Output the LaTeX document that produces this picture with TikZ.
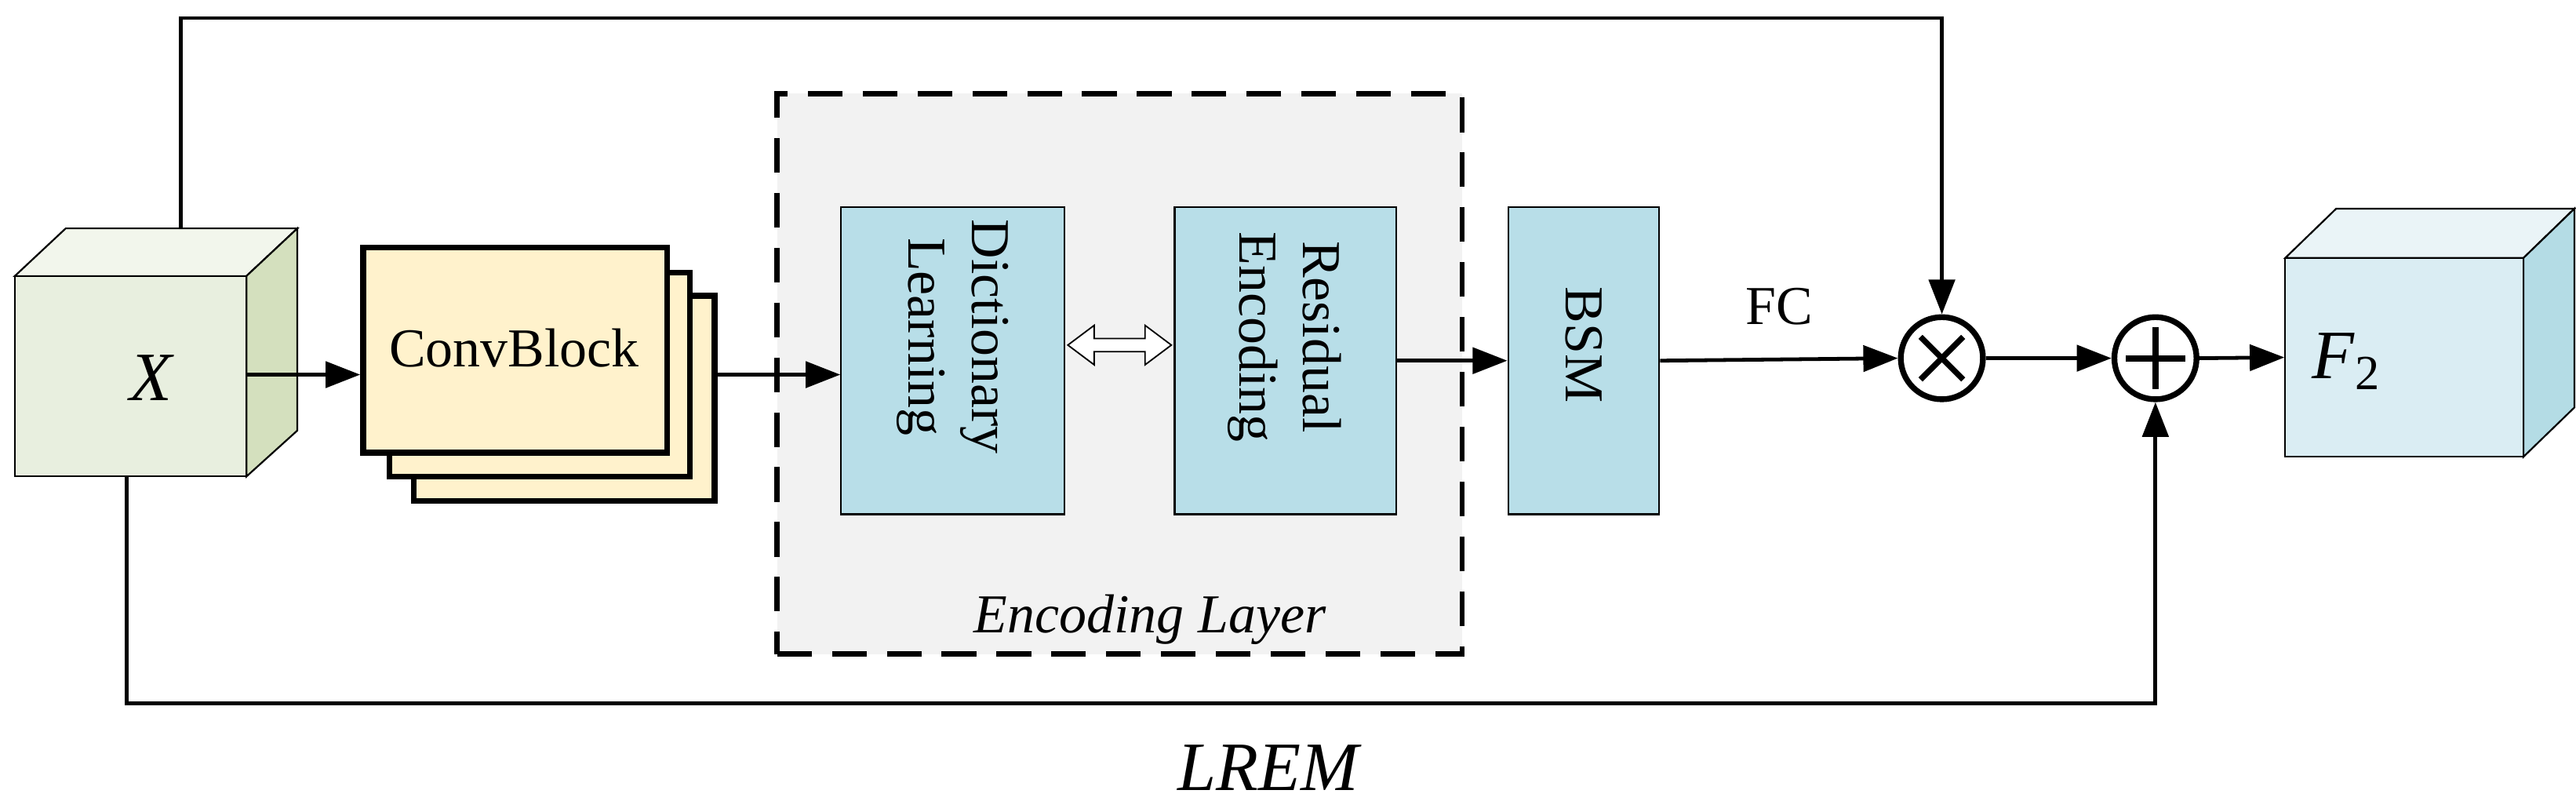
\documentclass[tikz,border=0pt]{standalone}
\usepackage{fontspec}
\setmainfont{Liberation Serif}
\usetikzlibrary{arrows.meta,calc}
\definecolor{gfront}{HTML}{E8EFDF}\definecolor{gtop}{HTML}{F2F6EC}\definecolor{gside}{HTML}{D4E0BE}
\definecolor{bfront}{HTML}{DAEDF3}\definecolor{btop}{HTML}{EAF4F7}\definecolor{bside}{HTML}{B4DCE5}
\definecolor{conv}{HTML}{FFF2CC}\definecolor{blk}{HTML}{B8DEE8}\definecolor{encbg}{HTML}{F2F2F2}
\begin{document}
\begin{tikzpicture}[x=0.02cm,y=-0.02cm,
  arr/.style={line width=1.3pt,-{Triangle[length=12pt,width=9pt]}},
  txt/.style={font=\fontsize{19}{22}\selectfont},
  conv/.style={draw=black,line width=2pt,fill=conv},
  opc/.style={circle,draw=black,line width=2pt,minimum size=1.0cm,inner sep=0pt}]
\useasboundingbox (0,0) rectangle (1568,494);
% X cube
\fill[gtop,draw=black,line width=0.6pt] (9,168)--(40,139)--(181,139)--(150,168)--cycle;
\fill[gside,draw=black,line width=0.6pt] (150,168)--(181,139)--(181,262)--(150,290)--cycle;
\node[draw=black,line width=0.6pt,fill=gfront,minimum width=2.82cm,minimum height=2.44cm,inner sep=0pt] (X) at (79.5,229) {};
\node[font=\fontsize{24}{26}\selectfont\itshape] at (92,230) {X};
% ConvBlock
\draw[conv] (252,180) rectangle (435,305);
\draw[conv] (237,166) rectangle (420,290);
\node[conv,minimum width=3.7cm,minimum height=2.5cm,inner sep=0pt] (CB) at (313.5,213) {};
\node[txt] at (313,212) {ConvBlock};
% Encoding layer
\node[draw=black,line width=1.8pt,dash pattern=on 12pt off 7pt,fill=encbg,minimum width=8.34cm,minimum height=6.82cm,inner sep=0pt] (EL) at (681.5,227.5) {};
\node[font=\fontsize{19}{22}\selectfont\itshape] at (700,377) {Encoding Layer};
\node[draw=black,line width=0.6pt,fill=blk,minimum width=2.72cm,minimum height=3.74cm,inner sep=0pt] (DL) at (580,219.5) {};
\node[txt,rotate=-90,align=center] at (580,205) {Dictionary\\Learning};
\node[draw=black,line width=0.6pt,fill=blk,minimum width=2.7cm,minimum height=3.74cm,inner sep=0pt] (RE) at (782.5,219.5) {};
\node[txt,rotate=-90,align=center] at (782,205) {Residual\\Encoding};
\node[draw=black,line width=0.6pt,fill=blk,minimum width=1.84cm,minimum height=3.74cm,inner sep=0pt] (BSM) at (964,219.5) {};
\node[txt,rotate=-90] at (964,210) {BSM};
% hollow double arrow
\draw[line width=0.5pt,fill=white] (650,210)--(666,198)--(666,206)--(697,206)--(697,198)--(713,210)--(697,222)--(697,214)--(666,214)--(666,222)--cycle;
% ops
\node[opc] (M) at (1182,218) {};
\draw[line width=2pt] ($(M)+(-13,-13)$) -- ($(M)+(13,13)$) ($(M)+(13,-13)$) -- ($(M)+(-13,13)$);
\node[opc] (P) at (1312,218) {};
\draw[line width=2.2pt] ($(P)+(-18,0)$) -- ($(P)+(18,0)$) ($(P)+(0,-19)$) -- ($(P)+(0,19)$);
% F2 cube
\fill[btop,draw=black,line width=0.6pt] (1391,157)--(1422,127)--(1567,127)--(1536,157)--cycle;
\fill[bside,draw=black,line width=0.6pt] (1536,157)--(1567,127)--(1567,248)--(1536,278)--cycle;
\node[draw=black,line width=0.6pt,fill=bfront,minimum width=2.9cm,minimum height=2.42cm,inner sep=0pt] (F) at (1463.5,217.5) {};
\node[font=\fontsize{24}{26}\selectfont] at (1428,220) {\textit{F}\raisebox{-0.35ex}{\fontsize{17}{18}\selectfont 2}};
% connectors
\coordinate (xo) at (150,228);
\draw[arr] (xo) -- (CB.west|-xo);
\coordinate (co) at (435,228);
\draw[arr] (co) -- (DL.west|-co);
\draw[arr] (RE.east) -- (BSM.west);
\draw[arr] (BSM.east) -- node[above=8pt,txt]{FC} (M.west);
\draw[arr] (M.east) -- (P.west);
\draw[arr] (P.east) -- (F.west);
\coordinate (t1) at (110,139);
\draw[arr] (t1) -- (110,11) -- (1182,11) -- (M.north);
\coordinate (b1) at (77,290);
\draw[arr] (b1) -- (77,428) -- (1312,428) -- (P.south);
\node[font=\fontsize{24}{26}\selectfont\itshape] at (772,467) {LREM};
\end{tikzpicture}
\end{document}
